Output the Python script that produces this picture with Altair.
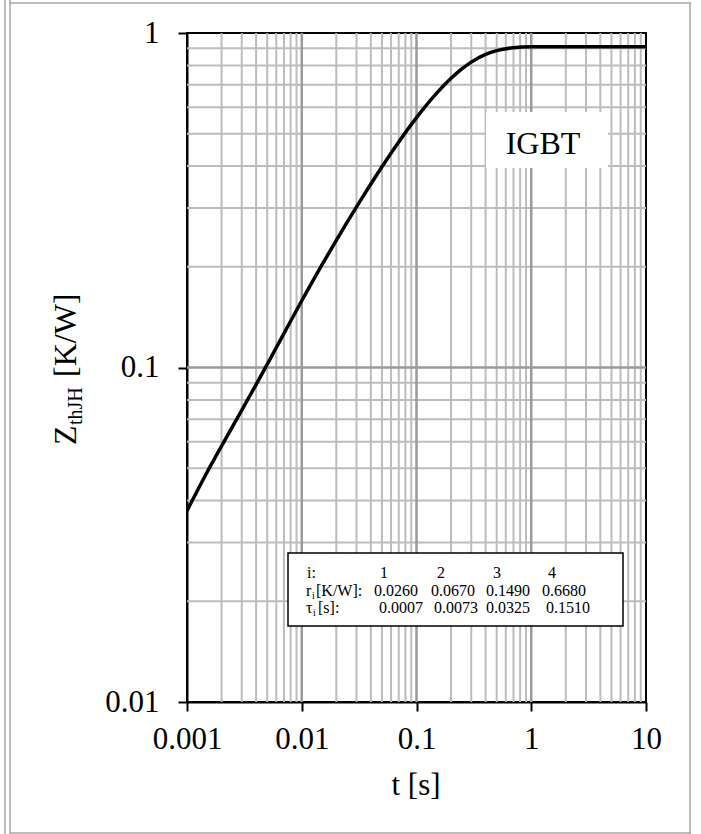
import altair as alt
import pandas as pd

# Transient thermal impedance curve (junction to heatsink), IGBT
t_s = [0.001, 0.0015, 0.002, 0.003, 0.004, 0.005, 0.007, 0.01, 0.015, 0.02,
       0.03, 0.04, 0.05, 0.07, 0.1, 0.15, 0.2, 0.25, 0.3, 0.4, 0.5, 0.7,
       1.0, 1.5, 2.0, 5.0, 10.0]
z_th = [0.0373, 0.0487, 0.0582, 0.0745, 0.0889, 0.1022, 0.1265, 0.1583,
        0.2027, 0.2400, 0.3021, 0.3537, 0.3982, 0.4725, 0.5587, 0.6611,
        0.7320, 0.7824, 0.8184, 0.8628, 0.8856, 0.9035, 0.9091, 0.9100,
        0.9100, 0.9100, 0.9100]

# Foster model parameters shown in the table
idx = [1, 2, 3, 4]
r_i = [0.0260, 0.0670, 0.1490, 0.6680]
tau_i = [0.0007, 0.0073, 0.0325, 0.1510]

x_ticks = [0.001, 0.01, 0.1, 1, 10]
y_ticks = [0.01, 0.1, 1]

x_major = [0.01, 0.1, 1]
x_minor = [k * d for d in [0.001, 0.01, 0.1, 1] for k in range(2, 10)]
y_major = [0.1]
y_minor = [k * d for d in [0.01, 0.1] for k in range(2, 10)]

W, H = 459, 669
LEFT, TOP = 187, 33
FONT = "Liberation Serif"

xs = alt.Scale(type="log", domain=[0.001, 10], nice=False)
ys = alt.Scale(type="log", domain=[0.01, 1], nice=False)

xa = alt.Axis(values=x_ticks, format="~g", title=None, grid=False,
              labelPadding=13, labelFlush=False, labelOverlap=False,
              labelBound=False)
ya = alt.Axis(values=y_ticks, format="~g", title=None, grid=False,
              labelPadding=19, labelFlush=False, labelOverlap=False,
              labelBound=False)

curve = pd.DataFrame({"t": t_s, "z": z_th})
one = pd.DataFrame({"k": [0]})


def vgrid(vals, color, width):
    return alt.Chart(pd.DataFrame({"v": vals})).mark_rule(
        color=color, strokeWidth=width
    ).encode(x=alt.X("v:Q", scale=xs, axis=xa))


def hgrid(vals, color, width):
    return alt.Chart(pd.DataFrame({"v": vals})).mark_rule(
        color=color, strokeWidth=width
    ).encode(y=alt.Y("v:Q", scale=ys, axis=ya))


def label(text, x, y, size, align="left", baseline="alphabetic", angle=0):
    # x, y are pixel positions in canvas coordinates
    kw = dict(font=FONT, fontSize=size, color="black", align=align,
              baseline=baseline)
    if angle:
        kw["angle"] = angle
    return alt.Chart(one).mark_text(**kw).encode(
        x=alt.value(x - LEFT), y=alt.value(y - TOP), text=alt.value(text)
    )


def box(x0, y0, x1, y1, stroke=None, width=0):
    kw = dict(fill="white")
    if stroke:
        kw.update(stroke=stroke, strokeWidth=width)
    return alt.Chart(one).mark_rect(**kw).encode(
        x=alt.value(x0 - LEFT), x2=alt.value(x1 - LEFT),
        y=alt.value(y0 - TOP), y2=alt.value(y1 - TOP)
    )


def vline(x, y0, y1, color="#a6a6a6", width=1.5):
    return alt.Chart(one).mark_rule(color=color, strokeWidth=width).encode(
        x=alt.value(x - LEFT), y=alt.value(y0 - TOP), y2=alt.value(y1 - TOP)
    )


def hline(y, x0, x1, color="#a6a6a6", width=1.5):
    return alt.Chart(one).mark_rule(color=color, strokeWidth=width).encode(
        y=alt.value(y - TOP), x=alt.value(x0 - LEFT), x2=alt.value(x1 - LEFT)
    )


line = alt.Chart(curve).mark_line(
    color="black", strokeWidth=3.5, interpolate="monotone", clip=True
).encode(
    x=alt.X("t:Q", scale=xs, axis=xa),
    y=alt.Y("z:Q", scale=ys, axis=ya),
)

TS = 16  # table text size
ROWS = [578, 596, 613]  # table text baselines
layers = [
    vgrid(x_minor, "#bcbcbc", 2),
    hgrid(y_minor, "#bcbcbc", 2),
    vgrid(x_major, "#9a9a9a", 2.5),
    hgrid(y_major, "#9a9a9a", 2.5),
    line,
    # curve label
    box(486, 112, 608, 168),
    label("IGBT", 543, 154, 32, align="center"),
    # parameter table
    box(288, 553, 623, 626, stroke="black", width=1.5),
    label("i:", 307, ROWS[0], TS),
    label("r", 306, ROWS[1], TS),
    label("i", 312, ROWS[1] + 3, 10),
    label("[K/W]:", 316, ROWS[1], TS),
    label("τ", 306, ROWS[2], TS),
    label("i", 313, ROWS[2] + 3, 10),
    label("[s]:", 318, ROWS[2], TS),
]

head_x = [384, 441, 497, 552]
r_x = [374, 431, 486, 542]
tau_x = [379, 434, 486, 546]
for i, hx in zip(idx, head_x):
    layers.append(label(str(i), hx, ROWS[0], TS, align="center"))
for v, rx in zip(r_i, r_x):
    layers.append(label(f"{v:.4f}", rx, ROWS[1], TS))
for v, tx in zip(tau_i, tau_x):
    layers.append(label(f"{v:.4f}", tx, ROWS[2], TS))

layers += [
    # axis titles
    label("t [s]", 416, 795, 31, align="center"),
    label("Z", 76, 445, 32, angle=270),
    label("thJH", 82, 425, 20, angle=270),
    label("[K/W]", 76, 377, 32, angle=270),
    # outer frame
    vline(5, 0, 834),
    vline(10, 0, 834),
    hline(3, 10, 691),
    hline(833, 10, 691),
    vline(690, 3, 834),
]

chart = alt.layer(*layers).properties(
    width=W, height=H,
    padding={"left": LEFT, "top": TOP, "right": 701 - LEFT - W,
             "bottom": 834 - TOP - H},
    autosize=alt.AutoSizeParams(type="none"),
).configure_view(
    stroke="black", strokeWidth=2
).configure_axis(
    labelFont=FONT, labelFontSize=31, labelColor="black",
    domainColor="black", domainWidth=2,
    tickColor="black", tickWidth=2, tickSize=9,
)

chart.save("out.html", embed_options={"renderer": "svg", "actions": False})
